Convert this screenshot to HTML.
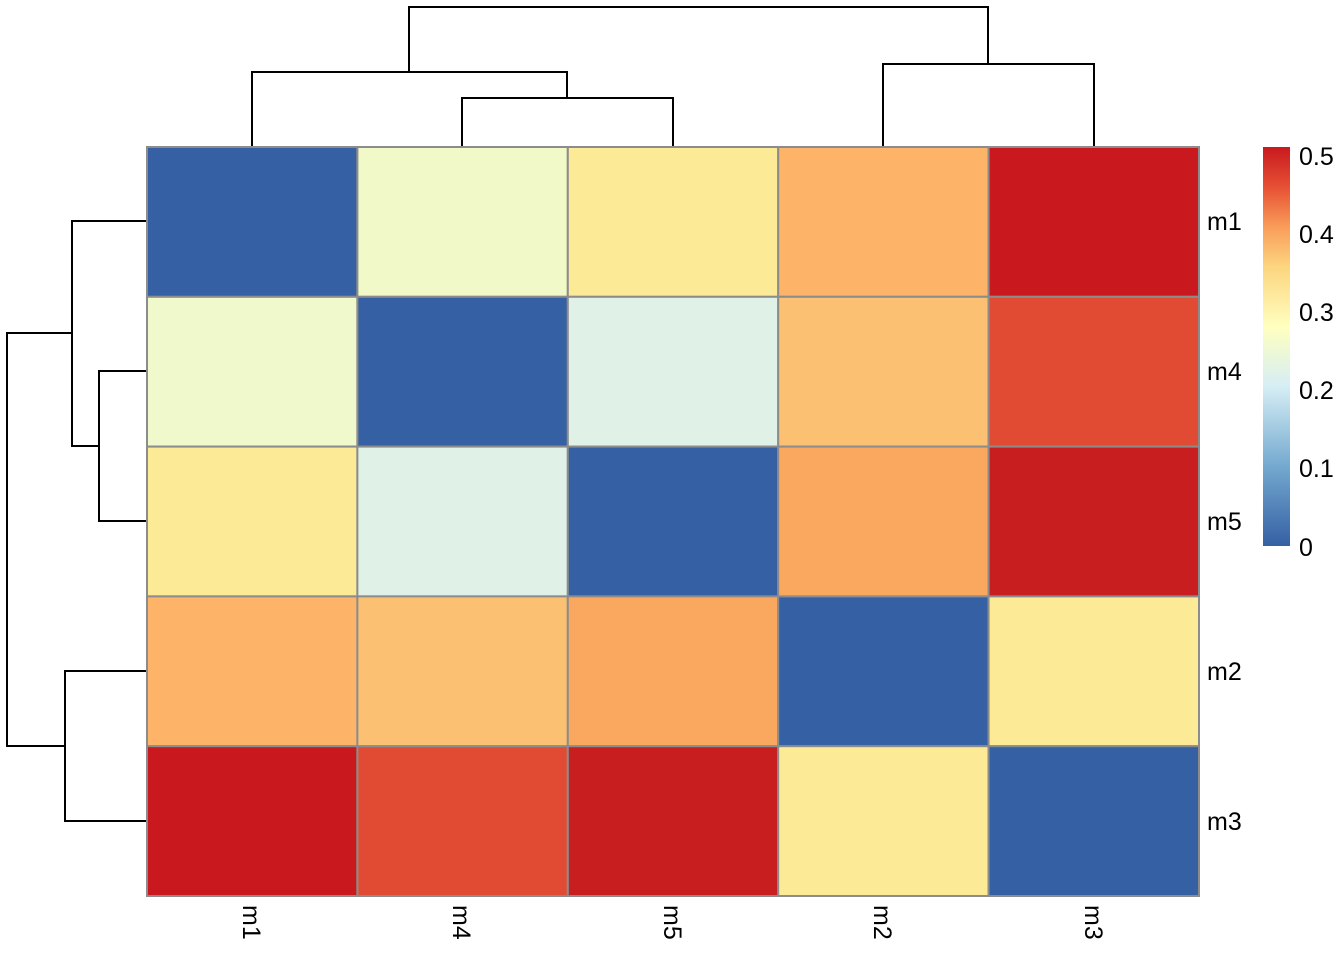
<!DOCTYPE html><html><head><style>body{margin:0;background:#fff}</style></head><body>
<svg width="1344" height="960" xmlns="http://www.w3.org/2000/svg" font-family="Liberation Sans, sans-serif">
<defs><linearGradient id="g" x1="0" y1="1" x2="0" y2="0">
<stop offset="0" stop-color="#3560A4"/><stop offset="0.2" stop-color="#74A9CF"/><stop offset="0.4" stop-color="#D6EEF5"/><stop offset="0.55" stop-color="#FFFFBF"/><stop offset="0.7" stop-color="#FCD57F"/><stop offset="0.8" stop-color="#F99C59"/><stop offset="0.9" stop-color="#E65034"/><stop offset="1" stop-color="#C9191E"/></linearGradient></defs>
<g stroke="#8c8c8c" stroke-width="2">
<rect x="147" y="147" width="210.4" height="149.8" fill="#3560A4"/><rect x="357.4" y="147" width="210.4" height="149.8" fill="#F1F9C8"/><rect x="567.8" y="147" width="210.4" height="149.8" fill="#FCEA96"/><rect x="778.2" y="147" width="210.4" height="149.8" fill="#FDB368"/><rect x="988.6" y="147" width="210.4" height="149.8" fill="#C9191E"/>
<rect x="147" y="296.8" width="210.4" height="149.8" fill="#F0F9CC"/><rect x="357.4" y="296.8" width="210.4" height="149.8" fill="#3560A4"/><rect x="567.8" y="296.8" width="210.4" height="149.8" fill="#E0F2E7"/><rect x="778.2" y="296.8" width="210.4" height="149.8" fill="#FBC072"/><rect x="988.6" y="296.8" width="210.4" height="149.8" fill="#E24B33"/>
<rect x="147" y="446.6" width="210.4" height="149.8" fill="#FCEA96"/><rect x="357.4" y="446.6" width="210.4" height="149.8" fill="#E0F2E7"/><rect x="567.8" y="446.6" width="210.4" height="149.8" fill="#3560A4"/><rect x="778.2" y="446.6" width="210.4" height="149.8" fill="#FAA85F"/><rect x="988.6" y="446.6" width="210.4" height="149.8" fill="#C91E1F"/>
<rect x="147" y="596.4" width="210.4" height="149.8" fill="#FDB368"/><rect x="357.4" y="596.4" width="210.4" height="149.8" fill="#FBC072"/><rect x="567.8" y="596.4" width="210.4" height="149.8" fill="#FAA85F"/><rect x="778.2" y="596.4" width="210.4" height="149.8" fill="#3560A4"/><rect x="988.6" y="596.4" width="210.4" height="149.8" fill="#FCEA96"/>
<rect x="147" y="746.2" width="210.4" height="149.8" fill="#C9191E"/><rect x="357.4" y="746.2" width="210.4" height="149.8" fill="#E24B33"/><rect x="567.8" y="746.2" width="210.4" height="149.8" fill="#C91E1F"/><rect x="778.2" y="746.2" width="210.4" height="149.8" fill="#FCEA96"/><rect x="988.6" y="746.2" width="210.4" height="149.8" fill="#3560A4"/>
</g>
<g stroke="#000" stroke-width="2" fill="none">
<path d="M462 146V98H673V146M252 146V72H567V98M883 146V64H1094V146M409 72V7H988V64"/>
<path d="M146 371H99V521H146M146 221H72V446H99M146 671H65V821H146M72 333H7V746H65"/>
</g>
<rect x="1263" y="147" width="27" height="399" fill="url(#g)"/>
<g font-size="25" fill="#000">
<text x="1299" y="165">0.5</text><text x="1299" y="243">0.4</text><text x="1299" y="321">0.3</text><text x="1299" y="399">0.2</text><text x="1299" y="477">0.1</text><text x="1299" y="556">0</text>
<text x="1207" y="230">m1</text><text x="1207" y="380">m4</text><text x="1207" y="530">m5</text><text x="1207" y="680">m2</text><text x="1207" y="830">m3</text>
<g transform="translate(243,905) rotate(90)"><text>m1</text></g>
<g transform="translate(453,905) rotate(90)"><text>m4</text></g>
<g transform="translate(664,905) rotate(90)"><text>m5</text></g>
<g transform="translate(874,905) rotate(90)"><text>m2</text></g>
<g transform="translate(1085,905) rotate(90)"><text>m3</text></g>
</g>
</svg></body></html>
